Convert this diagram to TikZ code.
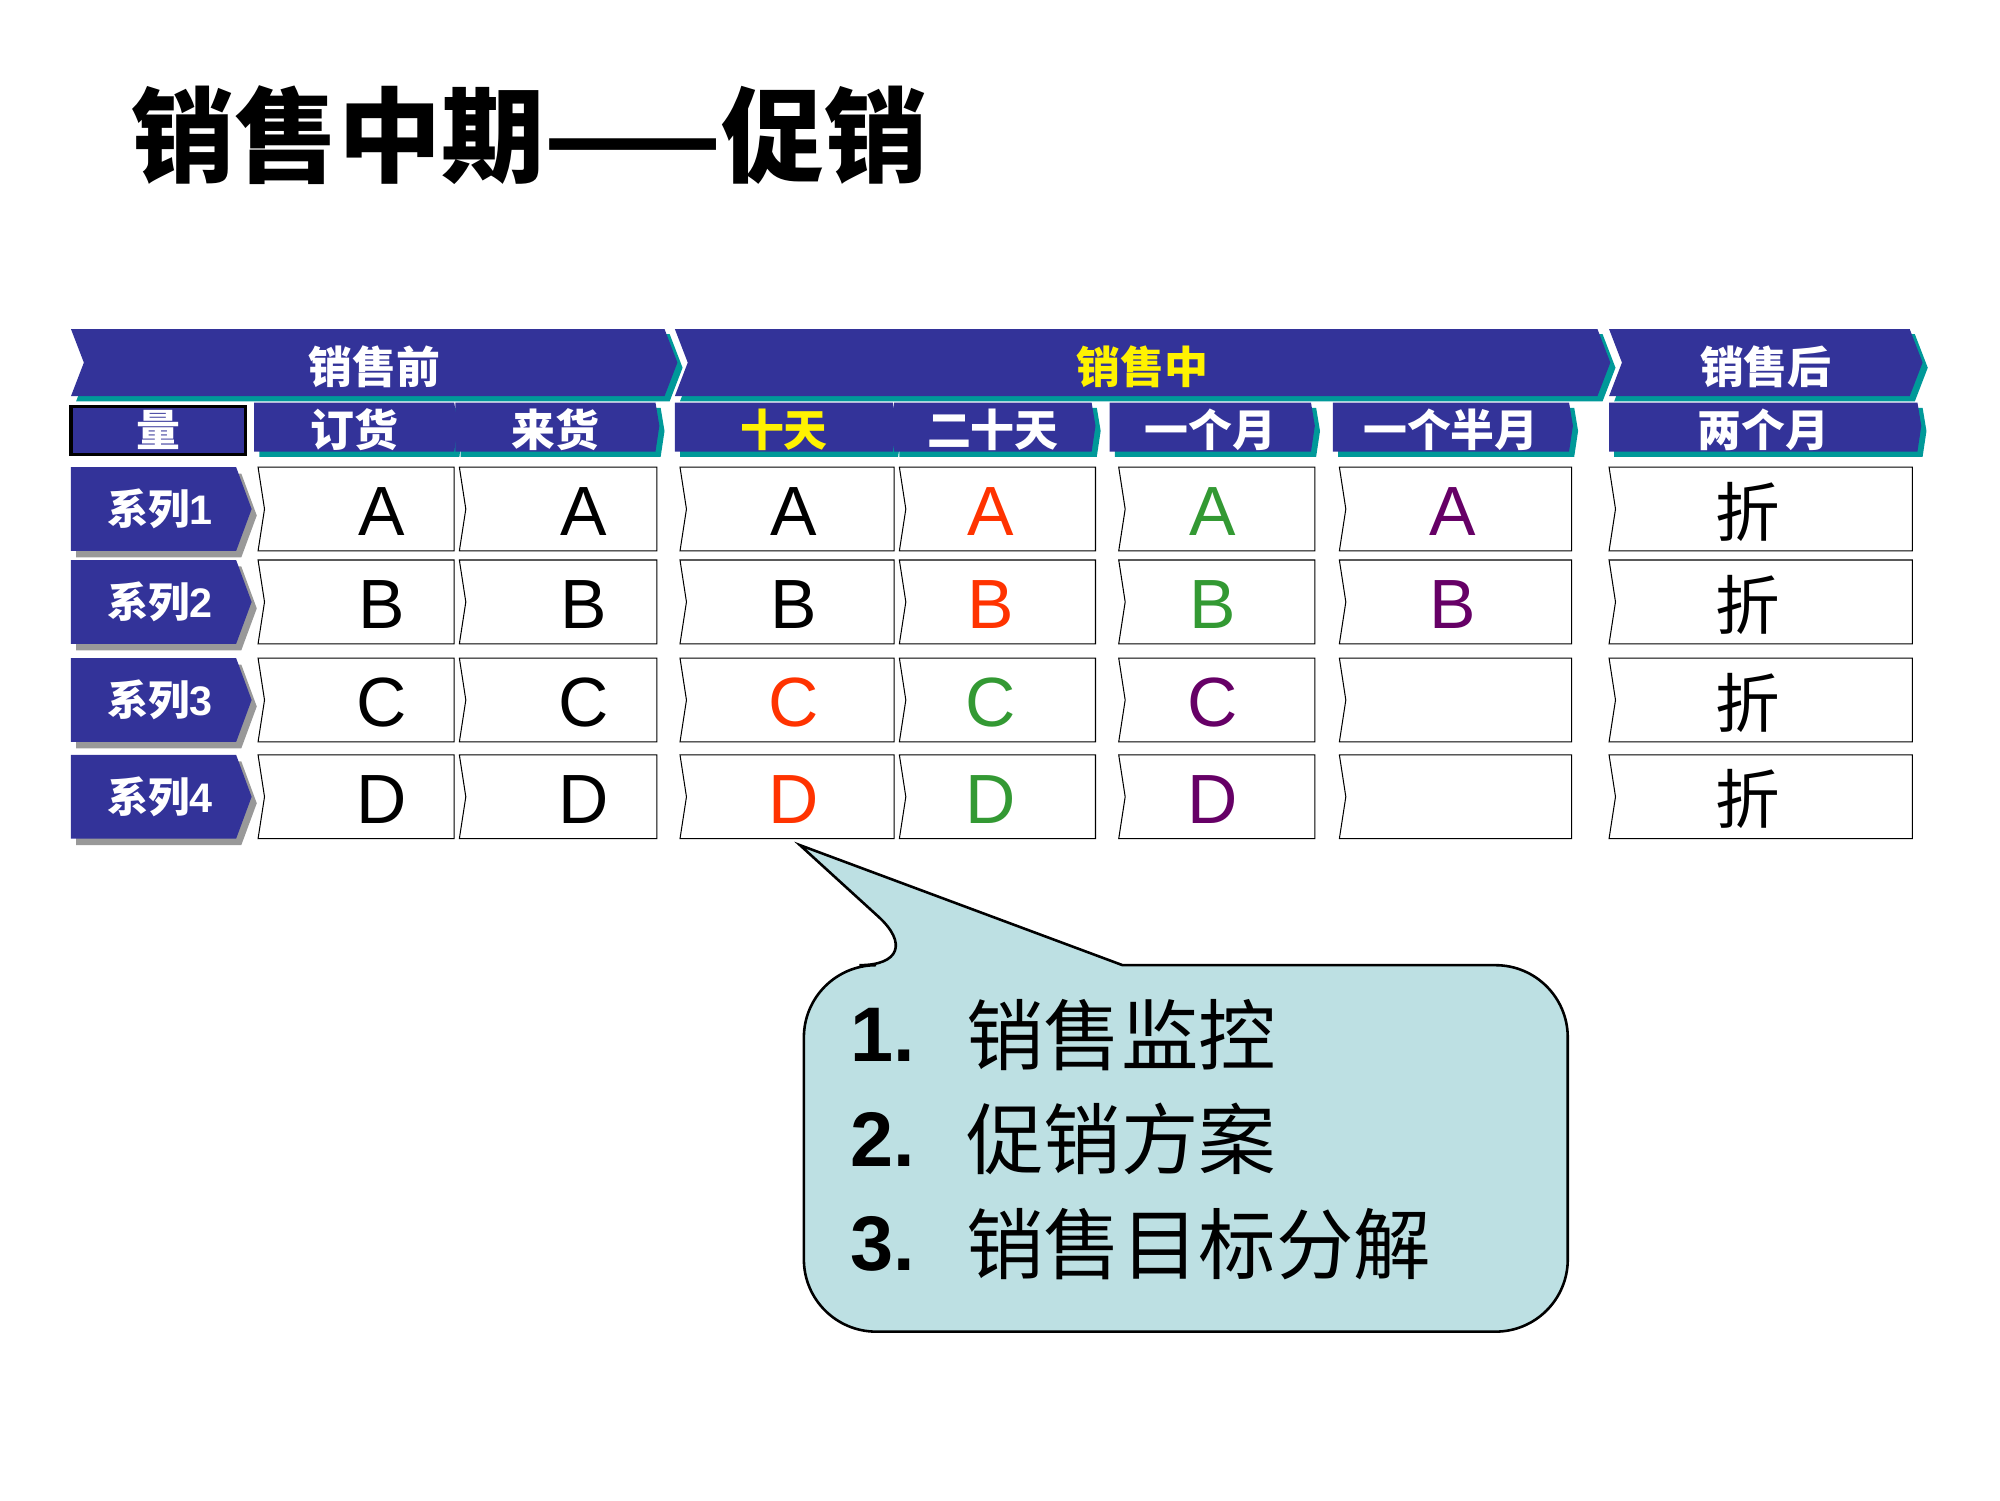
\documentclass[tikz,border=0pt]{standalone}
\usepackage{fontspec}
\usetikzlibrary{calc}
\setmainfont{Liberation Sans}
\newfontfamily\cjk{Noto Sans CJK SC}
\definecolor{navy}{RGB}{51,51,153}
\definecolor{tealsh}{RGB}{0,153,153}
\definecolor{redtxt}{RGB}{255,51,0}
\definecolor{greentxt}{RGB}{51,153,51}
\definecolor{purptxt}{RGB}{102,0,102}
\definecolor{callfill}{RGB}{189,224,227}
% chevron: x1, x2, y1, y2, notch
\newcommand{\chevpath}[5]{(#1,#3) -- (#2,#3) -- ({#2+#5},{(#3+#4)/2}) -- (#2,#4) -- (#1,#4) -- ({#1+#5},{(#3+#4)/2}) -- cycle}
\tikzset{
  hdrtext/.style={text=white,font=\cjk\bfseries\fontsize{17}{17}\selectfont},
  celltext/.style={font=\fontsize{27}{27}\selectfont},
  rowtext/.style={text=white,font=\cjk\bfseries\fontsize{16}{16}\selectfont},
}
\begin{document}
\begin{tikzpicture}[x=0.5pt,y=-0.5pt]
  \useasboundingbox (0,0) rectangle (1550,1162.5);
  % title
  \node[anchor=west,font=\cjk\bfseries\fontsize{40}{40}\selectfont] (title) at (95,105) {销售中期——促销};
  % top headers
  \foreach \xa/\xb/\lab/\col [count=\i] in {55/515/销售前/white,523/1238/销售中/yellow,1247/1480/销售后/white}{
    \fill[tealsh] \chevpath{\xa+4}{\xb+4}{259}{311}{10};
    \fill[navy] \chevpath{\xa}{\xb}{255}{307}{10};
    \node[hdrtext,text=\col] (top\i) at ({(\xa+\xb)/2+5},284) {\lab};
  }
  % sub headers
  \draw[fill=navy,line width=1.2pt] (55,315) rectangle (190,352);
  \node[hdrtext] (qty) at (123,333) {量};
  \foreach \xa/\xb/\lab/\col [count=\i] in {197/352/订货/white,353/508/来货/white,523/692/十天/yellow,693/846/二十天/white,860/1016/一个月/white,1033/1216/一个半月/white,1247/1486/两个月/white}{
    \fill[tealsh] ({\xa+4},316) -- ({\xb+4},316) -- ({\xb+7},334) -- ({\xb+4},354) -- ({\xa+4},354) -- cycle;
    \fill[navy] (\xa,312) -- (\xb,312) -- ({\xb+3},330) -- (\xb,350) -- (\xa,350) -- cycle;
    \node[hdrtext,text=\col] (sub\i) at ({(\xa+\xb)/2},333) {\lab};
  }
  % rows
  \foreach \ya/\yb [count=\r] in {362/427,434/499,510/575,585/650}{
    \fill[gray!80] (59,\ya+5) -- (187,\ya+5) -- (199,{(\ya+\yb)/2+5}) -- (187,\yb+5) -- (59,\yb+5) -- cycle;
    \fill[navy] (55,\ya) -- (183,\ya) -- (195,{(\ya+\yb)/2}) -- (183,\yb) -- (55,\yb) -- cycle;
    \node[rowtext] (row\r) at (124,{(\ya+\yb)/2}) {系列{\rmfamily\bfseries\r}};
    \foreach \xa/\xb [count=\c] in {200/352,356/509,527/693,697/849,867/1019,1038/1218,1247/1482}{
      \draw[fill=white] (\xa,\ya) -- (\xb,\ya) -- (\xb,\yb) -- (\xa,\yb) -- ({\xa+5},{(\ya+\yb)/2}) -- cycle;
      \coordinate (cell\r-\c) at ({(\xa+\xb)/2+20},{(\ya+\yb)/2+2});
    }
  }
  % cell texts
  \foreach \r/\L/\ca/\cb/\cc/\cd in {1/A/black/redtxt/greentxt/purptxt,2/B/black/redtxt/greentxt/purptxt,3/C/redtxt/greentxt/purptxt/white,4/D/redtxt/greentxt/purptxt/white}{
    \node[celltext] at (cell\r-1) {\L};
    \node[celltext] at (cell\r-2) {\L};
    \node[celltext,text=\ca] at ($(cell\r-3)+(-15,0)$) {\L};
    \node[celltext,text=\cb] at ($(cell\r-4)+(-25,0)$) {\L};
    \node[celltext,text=\cc] at ($(cell\r-5)+(-23,0)$) {\L};
    \node[celltext,text=\cd] at ($(cell\r-6)+(-22,0)$) {\L};
    \node[celltext,font=\cjk\fontsize{25}{25}\selectfont] at ($(cell\r-7)+(-30,0)$) {折};
  }
  % callout
  \coordinate (tip) at (620,655);
  \draw[fill=callfill,line width=1pt,rounded corners=28pt]
    (1215,900) -- (1215,1032) -- (623,1032) -- (623,748) -- (722,748) [sharp corners] -- (tip) -- (870,748) [rounded corners=28pt] -- (1215,748) -- cycle;
  \foreach \t/\y [count=\k] in {销售监控/802,促销方案/883,销售目标分解/964}{
    \node[anchor=west,font=\bfseries\fontsize{30}{30}\selectfont] (num\k) at (652,\y) {\k.};
    \node[anchor=west,font=\cjk\fontsize{30}{30}\selectfont] (item\k) at (742,\y) {\t};
  }
\end{tikzpicture}
\end{document}
